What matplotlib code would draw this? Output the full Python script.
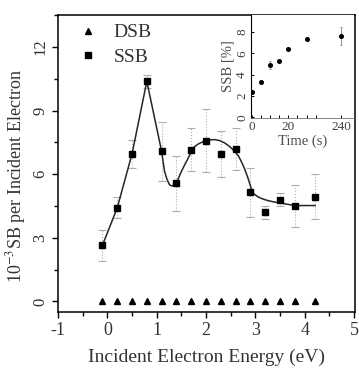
import numpy as np
import matplotlib
matplotlib.use("Agg")
import matplotlib.pyplot as plt
from matplotlib.ticker import MultipleLocator, FixedLocator

plt.rcParams['font.family'] = ['Liberation Serif', 'DejaVu Serif']
plt.rcParams['mathtext.fontset'] = 'stix'
plt.rcParams['axes.unicode_minus'] = False

# Strand-break yields vs. incident electron energy
energy = [-0.1, 0.2, 0.5, 0.8, 1.1, 1.4, 1.7, 2.0, 2.3, 2.6, 2.9, 3.2, 3.5, 3.8, 4.2]
ssb = [2.64, 4.41, 6.95, 10.38, 7.08, 5.58, 7.16, 7.58, 6.95, 7.2, 5.14, 4.2, 4.8, 4.5, 4.94]
ssb_err = [0.75, 0.5, 0.65, 0.3, 1.4, 1.3, 1.0, 1.5, 1.1, 1.0, 1.15, 0.3, 0.3, 1.0, 1.05]
dsb = [0.0] * 15

# Guide curve through the SSB yields
fit_e = [-0.1, 0.2, 0.5, 0.8, 1.1, 1.13, 1.16, 1.21, 1.26, 1.31, 1.40, 1.45, 1.50,
         1.57, 1.64, 1.71, 1.77, 1.84, 1.93, 2.02, 2.10, 2.18, 2.28, 2.38, 2.48,
         2.58, 2.66, 2.73, 2.79, 2.85, 2.92, 2.97, 3.06, 3.15, 3.26, 3.38, 3.50,
         3.70, 3.82, 4.21]
fit_y = [2.64, 4.41, 6.95, 10.38, 7.08, 6.6, 6.13, 5.75, 5.5, 5.44, 5.58, 5.85, 6.13,
         6.45, 6.76, 7.1, 7.3, 7.42, 7.52, 7.58, 7.62, 7.63, 7.58, 7.47, 7.3,
         7.08, 6.85, 6.53, 6.2, 5.82, 5.3, 5.07, 4.92, 4.83, 4.75, 4.69, 4.64,
         4.56, 4.52, 4.52]

# Inset: SSB percentage vs. irradiation time
time_s = [0, 5, 10, 15, 20, 30, 240]
ssb_pct = [2.4, 3.3, 4.9, 5.3, 6.4, 7.35, 7.65]
ssb_pct_err = [0, 0, 0.4, 0, 0, 0, 0.85]
time_ticks = [0, 20, 240]

fig = plt.figure(figsize=(3.59, 3.72), dpi=100)
ax = fig.add_axes([0.1616, 0.1613, 0.8273, 0.798])

ax.plot(fit_e, fit_y, color='0.15', lw=1.1, zorder=2)
eb = ax.errorbar(energy, ssb, yerr=ssb_err, fmt='none', ecolor='0.68',
                 elinewidth=0.8, capsize=3, capthick=0.8, zorder=1)
for lc in eb[2]:
    lc.set_linestyle(':')
ax.plot(energy, dsb, '^', color='black', ms=5, ls='none', label='DSB', zorder=3)
ax.plot(energy, ssb, 's', color='black', ms=4.5, ls='none', label='SSB', zorder=3)

ax.set_xlim(-1.0, 5.02)
ax.set_ylim(-0.5, 13.5)
ax.xaxis.set_major_locator(MultipleLocator(1))
ax.xaxis.set_minor_locator(MultipleLocator(0.5))
ax.yaxis.set_major_locator(MultipleLocator(3))
ax.yaxis.set_minor_locator(MultipleLocator(1.5))
ax.tick_params(which='major', direction='out', length=4, width=1, labelsize=13,
               labelcolor='0.2')
ax.tick_params(axis='y', which='major', labelsize=12, pad=3)
ax.tick_params(which='minor', direction='out', length=3, width=1)
for lab in ax.get_yticklabels():
    lab.set_rotation(90)
    lab.set_va('center')
for s in ax.spines.values():
    s.set_linewidth(1.1)

ax.set_xlabel('Incident Electron Energy (eV)', fontsize=14, color='0.2')
ax.xaxis.set_label_coords(0.5, -0.125)
ax.set_ylabel('10$^{-3}$SB per Incident Electron', fontsize=13, color='0.2')
ax.yaxis.set_label_coords(-0.1, 0.46)

leg = ax.legend(loc='upper left', bbox_to_anchor=(0.03, 1.01), frameon=False,
                fontsize=14, handlelength=1.0, handletextpad=0.8,
                labelspacing=0.35, borderaxespad=0.2)
for t in leg.get_texts():
    t.set_color('0.2')

# Inset with a compressed time axis beyond 40 s
def fwd(t):
    t = np.asarray(t, dtype=float)
    return np.where(t <= 40, t, 40 + (t - 40) * 0.044)

def inv(u):
    u = np.asarray(u, dtype=float)
    return np.where(u <= 40, u, 40 + (u - 40) / 0.044)

ins = fig.add_axes([0.699, 0.683, 0.287, 0.277])
ins.set_facecolor('white')
ins.set_xscale('function', functions=(fwd, inv))
ins.errorbar(time_s, ssb_pct, yerr=ssb_pct_err, fmt='none', ecolor='0.5',
             elinewidth=0.6, capsize=1, capthick=0.6)
ins.plot(time_s, ssb_pct, 'o', color='black', ms=2.6, ls='none')
ins.set_xlim(-0.4, 400)
ins.set_ylim(-0.05, 9.6)
ins.xaxis.set_major_locator(FixedLocator(time_ticks))
ins.xaxis.set_minor_locator(FixedLocator([5, 10, 15, 25, 30, 35]))
ins.yaxis.set_major_locator(MultipleLocator(2))
ins.tick_params(which='both', direction='in', length=2, width=0.7,
                labelsize=9.5, pad=2, labelcolor='0.25')
for lab in ins.get_yticklabels():
    lab.set_rotation(90)
    lab.set_va('center')
ins.spines['top'].set_visible(False)
ins.spines['right'].set_visible(False)
ins.spines['left'].set_linewidth(0.8)
ins.spines['bottom'].set_linewidth(0.6)
ins.spines['bottom'].set_color('0.45')
ins.set_xlabel('Time (s)', fontsize=10.5, color='0.3', labelpad=1)
ins.set_ylabel('SSB [%]', fontsize=10.5, color='0.3', labelpad=1)

fig.savefig('out.png', dpi=100)
